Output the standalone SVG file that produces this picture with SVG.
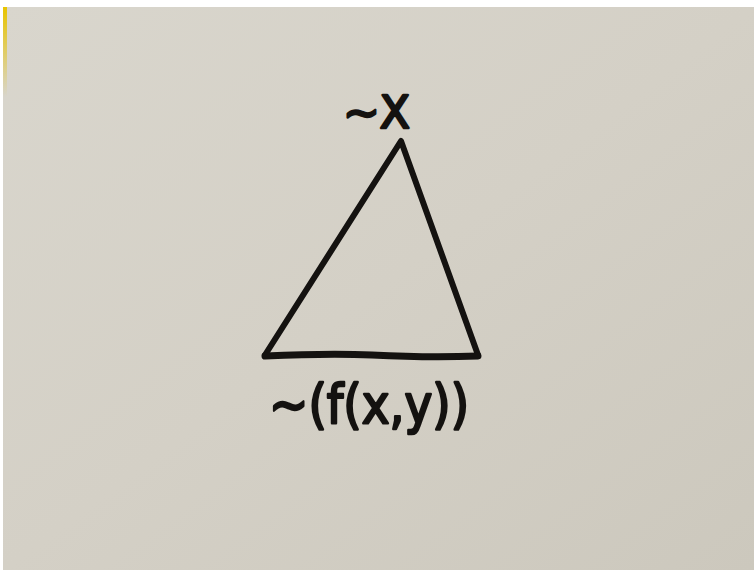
<svg xmlns="http://www.w3.org/2000/svg" width="754" height="570" viewBox="0 0 754 570">
  <defs>
    <linearGradient id="paper" x1="0" y1="0" x2="1" y2="1">
      <stop offset="0" stop-color="#d9d6cd"/>
      <stop offset="0.5" stop-color="#d4d0c6"/>
      <stop offset="1" stop-color="#ccc8bd"/>
    </linearGradient>
    <linearGradient id="yel" x1="0" y1="0" x2="0" y2="1">
      <stop offset="0" stop-color="#e8c400"/>
      <stop offset="1" stop-color="#e8c400" stop-opacity="0"/>
    </linearGradient>
  </defs>
  <style>
    .ink { fill: none; stroke: #141210; stroke-linecap: round; stroke-linejoin: round; }
    .lbl { fill: #141210; stroke: #141210; stroke-width: 2.5; stroke-linejoin: round; font-family: "DejaVu Sans", "Liberation Sans", sans-serif; }
  </style>
  <rect x="0" y="0" width="754" height="570" fill="#ffffff"/>
  <rect x="3" y="7" width="751" height="563" fill="url(#paper)"/>
  <rect x="3" y="7" width="4" height="90" fill="url(#yel)"/>
  <g id="connectors">
    <g id="triangle">
      <path class="ink" stroke-width="6" d="M265,355 L401,141 L478,355"/>
      <path class="ink" stroke-width="7" d="M265,356 Q330,353 372,355 Q430,358 478,356"/>
    </g>
  </g>
  <g id="top-label">
    <text class="lbl" x="343" y="128" font-size="45" textLength="67" lengthAdjust="spacingAndGlyphs">~X</text>
  </g>
  <g id="bottom-label">
    <text class="lbl" x="269" y="423" font-size="54" textLength="200" lengthAdjust="spacingAndGlyphs">~(f(x,y))</text>
  </g>
</svg>
